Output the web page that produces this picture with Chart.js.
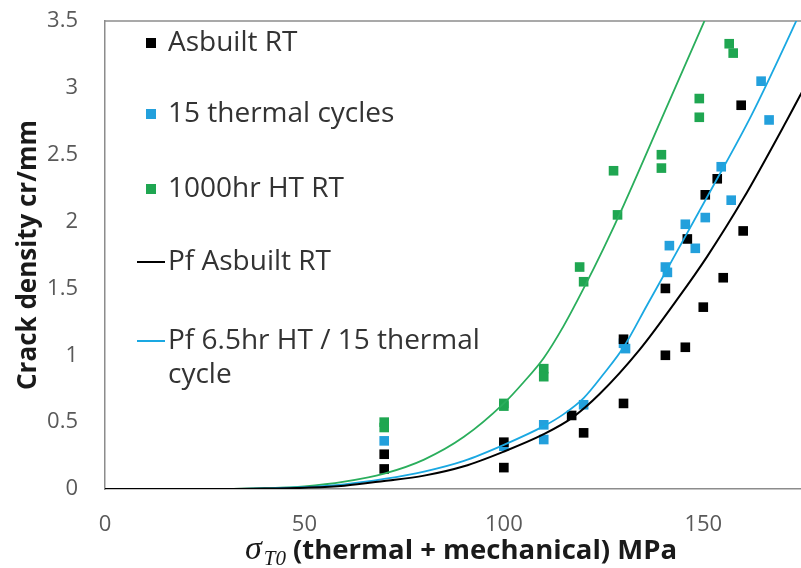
<!DOCTYPE html>
<html>
<head>
<meta charset="utf-8">
<script src="https://cdn.jsdelivr.net/npm/chart.js@4.4.1/dist/chart.umd.min.js"></script>
<style>
  html, body { margin: 0; padding: 0; background: #fff; overflow: hidden; }
  canvas { display: block; }
</style>
</head>
<body>
<canvas id="crackChart" width="801" height="568"></canvas>
<script>
// measured crack density (cr/mm) vs. applied stress (MPa)
const asbuiltX = [70, 70, 100, 100, 117, 120, 130, 130, 140.5, 140.5, 145.5, 146, 150.5, 150, 153.5, 155, 159.5, 160];
const asbuiltY = [0.26, 0.15, 0.35, 0.16, 0.55, 0.42, 1.12, 0.64, 1.50, 1.00, 1.06, 1.87, 2.20, 1.36, 2.32, 1.58, 2.87, 1.93];

const cycledX = [70, 100, 110, 110, 120, 130, 130.5, 140.5, 141, 141.5, 145.5, 148, 150.5, 154.5, 157, 164.5, 166.5];
const cycledY = [0.36, 0.32, 0.48, 0.37, 0.63, 1.09, 1.05, 1.66, 1.62, 1.82, 1.98, 1.80, 2.03, 2.41, 2.16, 3.05, 2.76];

const agedX = [70, 70, 100, 100, 110, 110, 119, 120, 127.5, 128.5, 139.5, 139.5, 149, 149, 156.5, 157.5];
const agedY = [0.50, 0.46, 0.64, 0.62, 0.90, 0.84, 1.66, 1.55, 2.38, 2.05, 2.50, 2.40, 2.92, 2.78, 3.33, 3.26];

// failure-probability model curves
const pfAsbuiltX = [0, 30, 40, 50, 60, 70, 80, 90, 100, 110, 117, 124, 134, 144, 151, 160, 171, 176];
const pfAsbuiltY = [0, 0, 0.003, 0.01, 0.025, 0.06, 0.10, 0.17, 0.28, 0.41, 0.53, 0.71, 1.04, 1.44, 1.74, 2.17, 2.76, 3.04];

const pfCycledX = [0, 30, 40, 50, 60, 70, 80, 90, 100, 110, 115, 120, 125, 130, 136, 142, 152, 162, 173, 176];
const pfCycledY = [0, 0, 0.004, 0.013, 0.035, 0.075, 0.13, 0.21, 0.33, 0.47, 0.56, 0.68, 0.86, 1.06, 1.38, 1.70, 2.24, 2.79, 3.48, 3.68];

const pfAgedX = [0, 30, 40, 50, 60, 70, 80, 90, 100, 105, 110, 115, 120, 125, 130, 140, 150, 155];
const pfAgedY = [0, 0, 0.006, 0.02, 0.055, 0.115, 0.22, 0.39, 0.64, 0.80, 0.98, 1.22, 1.50, 1.80, 2.12, 2.80, 3.48, 3.82];

const yTicksStep = 0.5;
const xTicksStep = 50;

const zip = (xs, ys) => xs.map((x, i) => ({ x: x, y: ys[i] }));

const BLACK = '#000000';
const BLUE_PT = '#23a0dc';
const BLUE_LN = '#1aa8e2';
const GREEN_PT = '#1fa651';
const GREEN_LN = '#2aae5c';

function pointSet(label, xs, ys, color) {
  return {
    label: label,
    data: zip(xs, ys),
    showLine: false,
    pointStyle: 'rect',
    pointRadius: 6.8,
    pointBorderWidth: 0,
    pointBackgroundColor: color,
    backgroundColor: color,
    borderColor: color,
    order: 1
  };
}

function curveSet(label, xs, ys, color, width) {
  return {
    label: label,
    data: zip(xs, ys),
    showLine: true,
    pointRadius: 0,
    borderColor: color,
    backgroundColor: color,
    borderWidth: width,
    cubicInterpolationMode: 'monotone',
    order: 0
  };
}

// legend drawn inside the plot, top-left, one row per entry
const legendEntries = [0, 1, 2, 3, 4];
const legendRowY = [43, 114, 189, 262, 341];
const inPlotLegend = {
  id: 'inPlotLegend',
  afterDatasetsDraw(chart) {
    const ctx = chart.ctx;
    ctx.save();
    ctx.font = '28px "Open Sans"';
    ctx.textBaseline = 'middle';
    ctx.textAlign = 'left';
    legendEntries.forEach((idx, row) => {
      const ds = chart.data.datasets[idx];
      const y = legendRowY[row];
      if (ds.showLine) {
        ctx.strokeStyle = ds.borderColor;
        ctx.lineWidth = 2;
        ctx.beginPath();
        ctx.moveTo(137, y);
        ctx.lineTo(165, y);
        ctx.stroke();
      } else {
        ctx.fillStyle = ds.backgroundColor;
        ctx.fillRect(146, y - 5, 10, 10);
      }
      // wrap long labels
      const words = ds.label.split(' ');
      const lines = [];
      let cur = '';
      words.forEach(w => {
        const test = cur ? cur + ' ' + w : w;
        if (ctx.measureText(test).width > 330 && cur) {
          lines.push(cur);
          cur = w;
        } else {
          cur = test;
        }
      });
      lines.push(cur);
      ctx.fillStyle = '#333333';
      lines.forEach((t, k) => ctx.fillText(t, 168, y + k * 34));
    });
    ctx.restore();
  }
};

// top edge of the plot frame
const plotFrame = {
  id: 'plotFrame',
  beforeDatasetsDraw(chart) {
    const { ctx, chartArea } = chart;
    ctx.save();
    ctx.strokeStyle = '#8c8c8c';
    ctx.lineWidth = 1.5;
    ctx.beginPath();
    ctx.moveTo(chartArea.left, chartArea.top);
    ctx.lineTo(chartArea.right, chartArea.top);
    ctx.stroke();
    ctx.restore();
  }
};

// x-axis title with the subscripted stress symbol
const stressTitle = {
  id: 'stressTitle',
  afterDraw(chart) {
    const { ctx } = chart;
    const rest = ' (thermal + mechanical) MPa';
    const sigFont = 'italic 34px "Liberation Serif"';
    const subFont = 'italic 21px "Liberation Serif"';
    const restFont = 'bold 27.5px "Open Sans"';
    ctx.save();
    ctx.fillStyle = '#1a1a1a';
    ctx.textBaseline = 'alphabetic';
    ctx.textAlign = 'left';
    ctx.font = sigFont;
    const wSig = ctx.measureText('σ').width;
    ctx.font = subFont;
    const wSub = ctx.measureText('T0').width;
    ctx.font = restFont;
    const wRest = ctx.measureText(rest).width;
    const total = wSig + 2 + wSub + wRest;
    let x = 461 - total / 2;
    const base = 559;
    ctx.font = sigFont;
    ctx.fillText('σ', x, base);
    x += wSig + 2;
    ctx.font = subFont;
    ctx.fillText('T0', x, base + 6);
    x += wSub;
    ctx.font = restFont;
    ctx.fillText(rest, x, base);
    ctx.restore();
  }
};

const ctx = document.getElementById('crackChart').getContext('2d');
const chart = new Chart(ctx, {
  type: 'scatter',
  data: {
    datasets: [
      pointSet('Asbuilt RT', asbuiltX, asbuiltY, BLACK),
      pointSet('15 thermal cycles', cycledX, cycledY, BLUE_PT),
      pointSet('1000hr HT RT', agedX, agedY, GREEN_PT),
      curveSet('Pf Asbuilt RT', pfAsbuiltX, pfAsbuiltY, BLACK, 2),
      curveSet('Pf 6.5hr HT / 15 thermal cycle', pfCycledX, pfCycledY, BLUE_LN, 1.8),
      curveSet('Pf 1000hr HT RT', pfAgedX, pfAgedY, GREEN_LN, 1.8)
    ]
  },
  options: {
    responsive: false,
    animation: false,
    events: [],
    layout: { autoPadding: false, padding: { top: 21, right: 0, bottom: 0, left: 0 } },
    plugins: {
      legend: { display: false },
      tooltip: { enabled: false }
    },
    scales: {
      x: {
        type: 'linear',
        min: 0,
        max: 174.5,
        grid: { display: false, drawTicks: false },
        border: { display: true, color: '#8c8c8c', width: 1.5 },
        ticks: {
          stepSize: xTicksStep,
          includeBounds: false,
          maxRotation: 0,
          autoSkip: false,
          padding: 23,
          color: '#595959',
          font: { family: 'Open Sans', size: 22 }
        },
        afterFit(scale) {
          scale.height = 79;
          scale.paddingLeft = 0;
          scale.paddingRight = 0;
        }
      },
      y: {
        min: 0,
        max: 3.5,
        grid: { display: false, drawTicks: false },
        border: { display: true, color: '#8c8c8c', width: 1.5 },
        ticks: {
          stepSize: yTicksStep,
          padding: 27,
          color: '#595959',
          font: { family: 'Open Sans', size: 22 },
          callback: v => String(v)
        },
        title: {
          display: true,
          text: 'Crack density cr/mm',
          color: '#1a1a1a',
          font: { family: 'Open Sans', size: 26, weight: 'bold' },
          padding: { top: 13, bottom: 0 }
        },
        afterFit(scale) {
          scale.width = 105;
          scale.paddingTop = 0;
          scale.paddingBottom = 0;
        }
      }
    }
  },
  plugins: [plotFrame, inPlotLegend, stressTitle]
});
</script>
</body>
</html>
